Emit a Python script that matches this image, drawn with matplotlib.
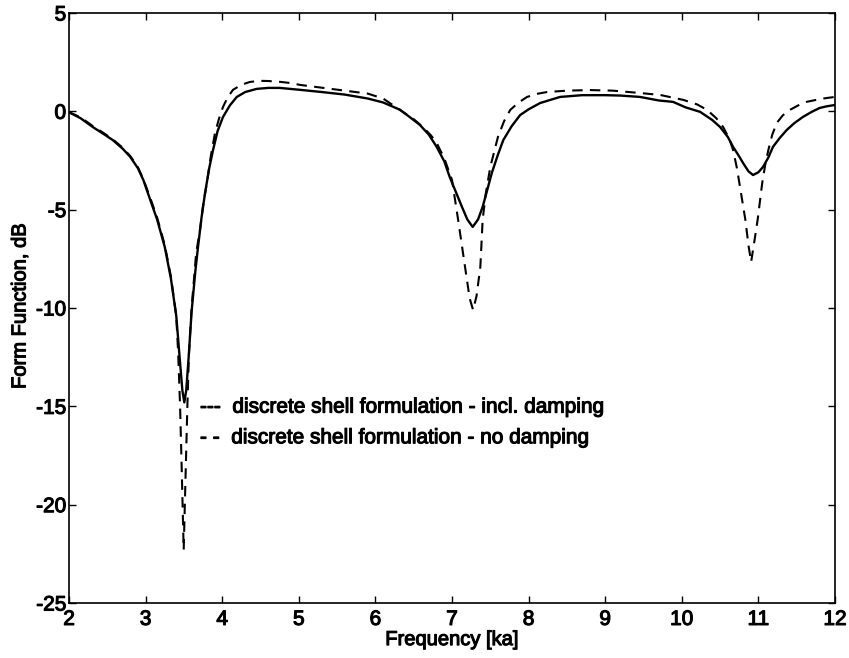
import matplotlib
matplotlib.use("Agg")
import matplotlib.pyplot as plt
import matplotlib.patheffects as pe
import numpy as np

# Frequency [ka] / form function [dB]
ka_damped = [2.00, 2.15, 2.31, 2.45, 2.57, 2.70, 2.80, 2.90, 2.97, 3.06,
             3.15, 3.25, 3.33, 3.40, 3.45, 3.48, 3.505, 3.53, 3.56, 3.60,
             3.65, 3.684, 3.73, 3.776, 3.83, 3.88, 3.94, 4.01, 4.10, 4.19,
             4.30, 4.45, 4.60, 4.75, 5.02, 5.30, 5.60, 5.90, 6.10, 6.32,
             6.45, 6.58, 6.70, 6.80, 6.90, 6.97, 7.05, 7.13, 7.20, 7.27,
             7.34, 7.40, 7.46, 7.52, 7.60, 7.67, 7.78, 7.89, 8.00, 8.15,
             8.41, 8.70, 9.00, 9.20, 9.455, 9.70, 9.885, 10.05, 10.24, 10.40,
             10.50, 10.60, 10.67, 10.75, 10.80, 10.87, 10.93, 11.00, 11.06, 11.13,
             11.19, 11.28, 11.37, 11.47, 11.58, 11.70, 11.80, 11.90, 12.00]
ff_damped = [-0.05, -0.35, -0.80, -1.15, -1.46, -1.90, -2.32, -2.90, -3.49, -4.50,
             -5.50, -6.90, -8.50, -10.40, -12.80, -14.20, -14.80, -14.20, -12.60, -10.20,
             -8.10, -6.90, -5.40, -4.15, -2.90, -1.97, -1.00, -0.29, 0.30, 0.73,
             0.98, 1.14, 1.19, 1.19, 1.09, 0.98, 0.85, 0.65, 0.45, 0.08,
             -0.30, -0.69, -1.20, -1.81, -2.55, -3.34, -4.10, -4.86, -5.50, -5.88,
             -5.50, -4.86, -4.00, -3.13, -2.20, -1.46, -0.75, -0.19, 0.10, 0.42,
             0.73, 0.82, 0.82, 0.80, 0.73, 0.55, 0.48, 0.20, -0.03, -0.45,
             -0.80, -1.30, -1.81, -2.30, -2.63, -3.05, -3.24, -3.10, -2.83, -2.35,
             -1.81, -1.35, -0.95, -0.60, -0.29, -0.02, 0.17, 0.26, 0.32]

ka_undamped = [2.00, 2.15, 2.31, 2.45, 2.57, 2.70, 2.80, 2.90, 2.97, 3.06,
               3.15, 3.25, 3.33, 3.40, 3.425, 3.45, 3.47, 3.497, 3.525, 3.545,
               3.565, 3.60, 3.66, 3.71, 3.75, 3.80, 3.85, 3.906, 3.96, 4.01,
               4.07, 4.14, 4.25, 4.36, 4.48, 4.60, 4.75, 4.885, 5.02, 5.30,
               5.60, 5.90, 6.10, 6.32, 6.50, 6.62, 6.72, 6.80, 6.90, 7.00,
               7.08, 7.17, 7.23, 7.275, 7.32, 7.37, 7.40, 7.44, 7.50, 7.60,
               7.68, 7.76, 7.87, 7.98, 8.10, 8.24, 8.50, 8.80, 9.10, 9.455,
               9.72, 10.02, 10.20, 10.33, 10.45, 10.54, 10.62, 10.67, 10.72, 10.76,
               10.83, 10.87, 10.905, 10.94, 10.99, 11.05, 11.09, 11.13, 11.18, 11.24,
               11.32, 11.41, 11.52, 11.63, 11.80, 11.90, 12.00]
ff_undamped = [-0.05, -0.30, -0.75, -1.10, -1.42, -1.85, -2.28, -2.85, -3.45, -4.40,
               -5.40, -6.80, -8.40, -10.40, -12.30, -15.00, -18.00, -22.30, -18.00, -15.00,
               -12.40, -10.00, -7.20, -6.03, -4.80, -3.64, -2.30, -1.10, -0.35, 0.22,
               0.70, 1.09, 1.35, 1.49, 1.55, 1.54, 1.50, 1.44, 1.34, 1.20,
               1.05, 0.90, 0.65, 0.07, -0.40, -0.80, -1.20, -1.61, -2.40, -3.49,
               -5.52, -7.91, -9.50, -10.10, -9.40, -7.91, -5.52, -4.20, -2.83, -1.30,
               -0.50, 0.07, 0.45, 0.73, 0.88, 0.98, 1.05, 1.08, 1.05, 0.93,
               0.83, 0.58, 0.35, 0.07, -0.35, -0.80, -1.40, -1.97, -2.90, -3.85,
               -5.52, -6.80, -7.66, -6.80, -5.52, -3.64, -2.70, -1.97, -1.20, -0.59,
               -0.20, 0.07, 0.30, 0.48, 0.62, 0.68, 0.73]

x_ticks = [2, 3, 4, 5, 6, 7, 8, 9, 10, 11, 12]
y_ticks = [5, 0, -5, -10, -15, -20, -25]

legend_lines = ["---  discrete shell formulation - incl. damping",
                "- -  discrete shell formulation - no damping"]

plt.rcParams['font.family'] = ['Liberation Sans', 'DejaVu Sans']
plt.rcParams['font.size'] = 15
plt.rcParams['axes.unicode_minus'] = False

# scanned print: text looks heavier than regular weight
heavy = [pe.withStroke(linewidth=0.8, foreground="black")]

fig = plt.figure(figsize=(8.49, 6.58), dpi=100)
ax = fig.add_axes([0.0813, 0.0836, 0.9022, 0.8967])

ax.plot(ka_damped, ff_damped, color="black", linewidth=1.7)
ax.plot(ka_undamped, ff_undamped, color="black", linewidth=1.5,
        linestyle=(0, (5, 3.5)))

ax.set_xlim(2, 12)
ax.set_ylim(-25, 5)
ax.set_xticks(x_ticks)
ax.set_yticks(y_ticks)
ax.tick_params(direction="in", length=5, width=1, top=True, right=True,
               labelsize=15, colors="black")
ax.tick_params(axis="x", pad=5)
ax.tick_params(axis="y", pad=2)
for sp in ax.spines.values():
    sp.set_linewidth(1.2)

ax.set_xlabel("Frequency [ka]", fontsize=14.5, va="center")
ax.xaxis.set_label_coords(0.5, -0.062)
ax.set_ylabel("Form Function, dB", fontsize=14.5, va="center")
ax.yaxis.set_label_coords(-0.064, 0.503)

# legend is written as plain text in the original
ax.text(0.171, 0.332, legend_lines[0], transform=ax.transAxes,
        ha="left", va="center", fontsize=15)
ax.text(0.171, 0.280, legend_lines[1], transform=ax.transAxes,
        ha="left", va="center", fontsize=15)

for t in ax.texts + ax.get_xticklabels() + ax.get_yticklabels():
    t.set_path_effects(heavy)
ax.xaxis.label.set_path_effects(heavy)
ax.yaxis.label.set_path_effects(heavy)

fig.savefig("out.png", dpi=100)
